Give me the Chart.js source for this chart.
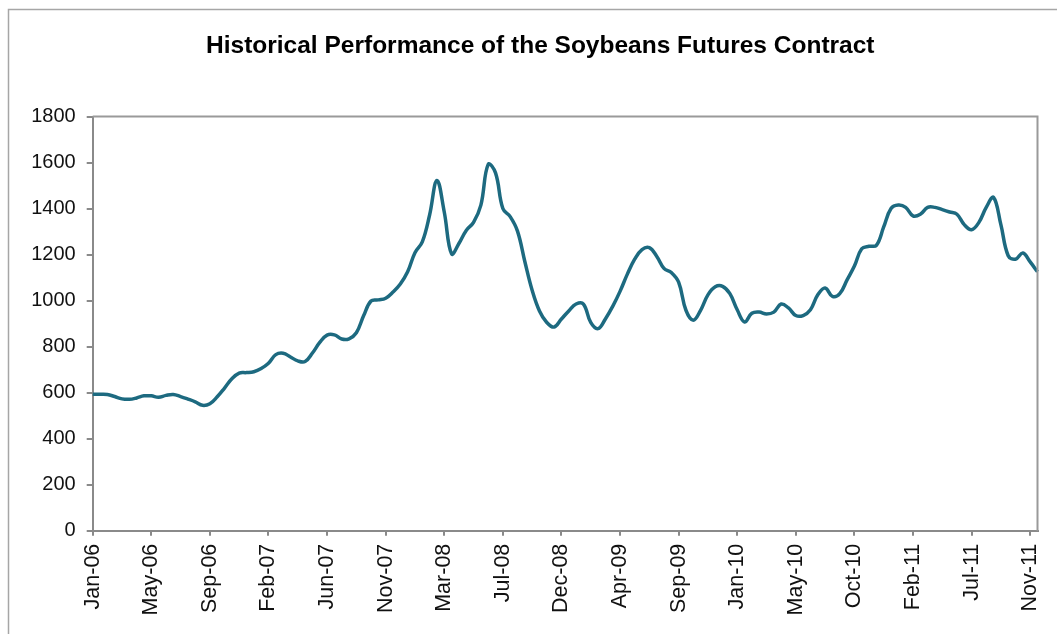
<!DOCTYPE html>
<html>
<head>
<meta charset="utf-8">
<script src="https://cdn.jsdelivr.net/npm/chart.js@4.4.1/dist/chart.umd.min.js"></script>
<style>
  html, body { margin: 0; padding: 0; background: #ffffff; }
  #wrap { width: 1057px; height: 634px; position: relative; }
</style>
</head>
<body>
<div id="wrap"><canvas id="c" width="1057" height="634"></canvas></div>
<script>
// Tick labels shown on the x axis (one every 8 data points)
const tickLabels = ['Jan-06','May-06','Sep-06','Feb-07','Jun-07','Nov-07','Mar-08','Jul-08','Dec-08',
                    'Apr-09','Sep-09','Jan-10','May-10','Oct-10','Feb-11','Jul-11','Nov-11'];
const pointsPerTick = 8;

// Soybean futures price (cents/bushel) at ~2.4-week steps
const prices2006 = [593,593,592,583,573,571,577,586,586,580,588,592,583,572,560,545,552,582,620,660,685,687,691];
const prices2007 = [705,728,765,771,755,738,735,772,818,850,851,833,834,860,935,998,1003,1010,1037,1072,1125,1208];
const prices2008 = [1255,1372,1522,1385,1203,1248,1305,1340,1415,1592,1555,1400,1365,1302,1170,1045,955,905,885,920,955,985];
const prices2009 = [985,905,878,920,975,1040,1115,1180,1222,1230,1193,1140,1122,1080,958,915,958,1025,1060,1062,1030];
const prices2010 = [960,907,945,950,942,950,985,968,935,935,960,1025,1055,1018,1030,1090,1150,1225,1236,1240,1320,1400];
const prices2011 = [1415,1405,1368,1375,1405,1405,1395,1385,1375,1330,1308,1340,1405,1448,1330,1195,1180,1207,1168,1125];

const prices = [].concat(prices2006, prices2007, prices2008, prices2009, prices2010, prices2011);
const categories = prices.map((_, i) => (i % pointsPerTick === 0 && tickLabels[i / pointsPerTick]) ? tickLabels[i / pointsPerTick] : '');

const yMin = 0, yMax = 1800, yStep = 200;
const seriesName = 'Soybeans Futures';
const titleText = 'Historical Performance of the Soybeans Futures Contract';
const FONT = "'Liberation Sans', Arial, sans-serif";

const frame = {
  id: 'frame',
  afterLayout(chart) {
    // the reference title sits slightly right of the canvas centre
    const t = chart.titleBlock;
    if (t) { t.left += 11.5; t.right += 11.5; }
  },
  beforeDraw(chart) {
    const ctx = chart.ctx;
    ctx.save();
    ctx.fillStyle = '#ffffff';
    ctx.fillRect(0, 0, chart.width, chart.height);
    ctx.strokeStyle = '#a6a6a6';
    ctx.lineWidth = 1.5;
    ctx.strokeRect(8.5, 9.5, chart.width + 50, chart.height + 50);
    ctx.restore();
  },
  afterDatasetsDraw(chart) {
    const a = chart.chartArea;
    const ctx = chart.ctx;
    ctx.save();
    ctx.strokeStyle = '#9a9a9a';
    ctx.lineWidth = 2;
    ctx.beginPath();
    ctx.moveTo(a.left, a.top);
    ctx.lineTo(a.right, a.top);
    ctx.lineTo(a.right, a.bottom);
    ctx.stroke();
    ctx.restore();
  }
};

new Chart(document.getElementById('c'), {
  type: 'line',
  data: {
    labels: categories,
    datasets: [{
      label: seriesName,
      data: prices,
      borderColor: '#1d6a80',
      borderWidth: 3.5,
      pointRadius: 0,
      tension: 0.4,
      fill: false
    }]
  },
  options: {
    responsive: false,
    animation: false,
    devicePixelRatio: 1,
    layout: { padding: { left: 20, right: 19.5, top: 0, bottom: 0 } },
    plugins: {
      legend: { display: false },
      tooltip: { enabled: false },
      title: {
        display: true,
        text: titleText,
        color: '#000000',
        font: { family: FONT, size: 24.5, weight: 'bold' },
        padding: { top: 31.3, bottom: 55.8 }
      }
    },
    scales: {
      x: {
        type: 'category',
        offset: false,
        afterBuildTicks(scale) {
          scale.ticks = scale.ticks.filter(t => t.value % pointsPerTick === 0);
        },
        afterFit(scale) { scale.height = 103.3; scale.paddingLeft = 0; scale.paddingRight = 0; },
        grid: { display: true, drawOnChartArea: false, drawTicks: true, tickLength: 5, color: '#8a8a8a', lineWidth: 2 },
        border: { display: true, color: '#8a8a8a', width: 2 },
        ticks: {
          autoSkip: false,
          minRotation: 90,
          maxRotation: 90,
          padding: 8,
          color: '#111111',
          font: { family: FONT, size: 21.5 },
          callback(value) { return this.getLabelForValue(value); }
        }
      },
      y: {
        min: yMin,
        max: yMax,
        afterFit(scale) { scale.width = 72.7; },
        grid: { display: true, drawOnChartArea: false, drawTicks: true, tickLength: 6, color: '#8a8a8a', lineWidth: 2 },
        border: { display: true, color: '#8a8a8a', width: 2 },
        ticks: {
          stepSize: yStep,
          padding: 11,
          color: '#111111',
          font: { family: FONT, size: 20 },
          callback(value) { return String(value); }
        }
      }
    }
  },
  plugins: [frame]
});
</script>
</body>
</html>
